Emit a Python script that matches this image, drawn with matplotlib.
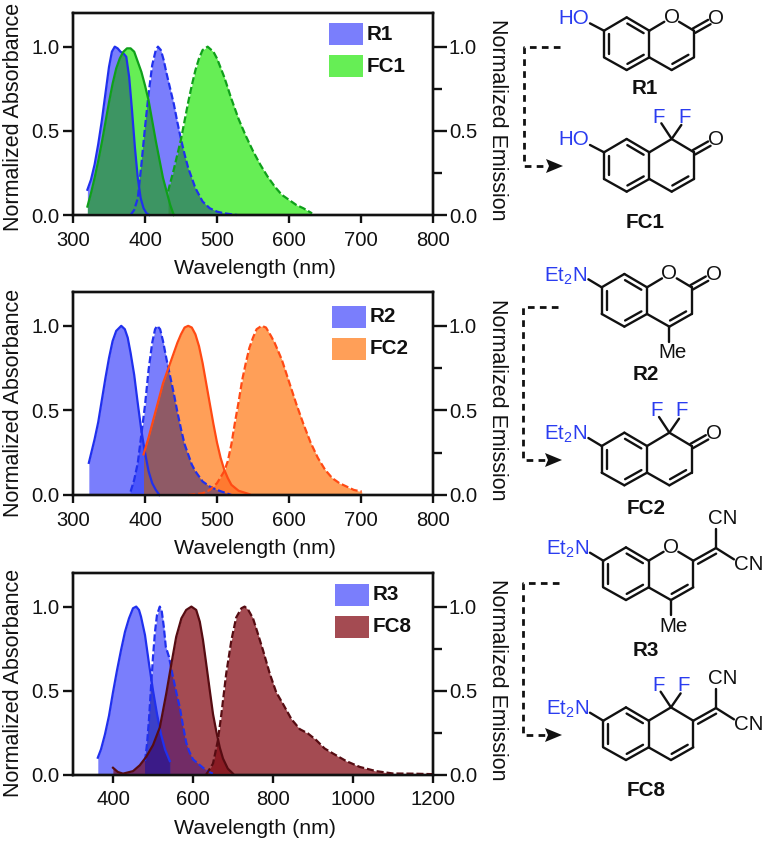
import numpy as np
import matplotlib
matplotlib.use('Agg')
import matplotlib.pyplot as plt
from matplotlib.patches import Rectangle, Polygon

plt.rcParams['font.family'] = ['Liberation Sans', 'DejaVu Sans']
plt.rcParams['mathtext.fontset'] = 'custom'
plt.rcParams['mathtext.rm'] = 'Liberation Sans'
plt.rcParams['mathtext.default'] = 'regular'

# === DATA ===
r1_abs_x = [320, 325, 330, 335, 340, 345, 350, 354, 358, 362, 366, 370, 374, 378, 382, 386, 390, 394, 398, 402, 406]
r1_abs_y = [.15, .21, .30, .42, .56, .72, .88, .97, 1.0, .99, .97, .96, .94, .82, .62, .40, .22, .10, .04, .01, 0]
r1_em_x = [380, 385, 390, 395, 400, 405, 410, 415, 418, 422, 426, 430, 435, 440, 445, 450, 455, 460, 465, 470, 475, 480, 490, 500, 510, 528]
r1_em_y = [0, .03, .10, .30, .52, .72, .89, .98, 1.0, .98, .92, .84, .75, .66, .55, .45, .36, .28, .22, .16, .12, .08, .04, .02, .01, 0]
fc1_abs_x = [320, 325, 330, 335, 340, 345, 350, 355, 360, 365, 370, 375, 380, 385, 390, 395, 400, 405, 410, 415, 420, 425, 430, 435, 440]
fc1_abs_y = [.05, .13, .22, .32, .43, .55, .67, .78, .87, .93, .97, .99, .99, .97, .91, .85, .77, .68, .56, .44, .33, .22, .14, .06, 0]
fc1_em_x = [432, 440, 450, 460, 465, 470, 475, 480, 487, 495, 500, 510, 520, 530, 540, 550, 560, 570, 580, 590, 600, 610, 620, 632]
fc1_em_y = [.14, .27, .45, .67, .77, .86, .93, .98, 1.0, .97, .93, .82, .69, .57, .47, .38, .30, .23, .17, .12, .09, .06, .04, .01]

r2_abs_x = [322, 330, 335, 340, 345, 350, 355, 360, 367, 372, 376, 380, 385, 390, 395, 400, 405, 410, 415, 420]
r2_abs_y = [.19, .33, .43, .56, .69, .81, .91, .97, 1.0, .98, .93, .84, .71, .54, .38, .25, .14, .07, .03, 0]
r2_em_x = [380, 385, 390, 395, 400, 405, 410, 414, 417, 421, 425, 430, 435, 440, 445, 450, 455, 460, 465, 470, 480, 490, 500, 510, 520]
r2_em_y = [.02, .09, .19, .36, .53, .74, .90, .98, 1.0, .98, .91, .80, .70, .60, .49, .39, .30, .24, .18, .14, .08, .05, .03, .015, 0]
fc2_abs_x = [398, 405, 410, 415, 420, 425, 430, 435, 440, 445, 450, 455, 460, 465, 470, 475, 480, 485, 490, 495, 500, 505, 510, 515, 520, 530, 545]
fc2_abs_y = [.24, .34, .42, .50, .58, .66, .72, .78, .84, .90, .95, .99, 1.0, .99, .95, .88, .78, .66, .54, .42, .31, .22, .15, .10, .06, .025, .005]
fc2_em_x = [460, 470, 480, 490, 500, 510, 515, 520, 525, 530, 535, 540, 545, 550, 555, 562, 568, 575, 580, 590, 600, 610, 620, 630, 640, 650, 660, 670, 680, 690, 701]
fc2_em_y = [0, .005, .01, .03, .07, .14, .20, .30, .43, .55, .68, .78, .87, .93, .98, 1.0, .99, .94, .90, .80, .67, .54, .42, .31, .22, .15, .10, .07, .05, .03, .02]

r3_abs_x = [362, 370, 380, 390, 400, 410, 420, 430, 440, 450, 458, 465, 470, 480, 490, 500, 510, 520, 530, 542]
r3_abs_y = [.10, .15, .24, .35, .49, .62, .74, .85, .93, .99, 1.0, .98, .94, .83, .66, .50, .36, .24, .15, .08]
r3_em_x = [480, 485, 490, 495, 500, 505, 510, 517, 522, 527, 532, 540, 550, 560, 567, 575, 583, 590, 600, 610, 625, 640, 655]
r3_em_y = [.08, .18, .33, .52, .70, .85, .95, 1.0, .97, .88, .76, .70, .58, .47, .40, .29, .19, .14, .09, .07, .04, .015, 0]
fc8_abs_x = [400, 412, 425, 450, 467, 483, 500, 517, 533, 546, 558, 571, 583, 596, 608, 617, 625, 633, 642, 650, 658, 667, 675, 687, 700]
fc8_abs_y = [.04, .015, .005, .02, .055, .105, .175, .28, .48, .66, .82, .93, .98, 1.0, .98, .91, .80, .66, .50, .36, .26, .16, .095, .035, .005]
fc8_em_x = [633, 650, 662, 671, 683, 696, 708, 721, 729, 737, 750, 762, 775, 792, 808, 825, 846, 867, 887, 908, 929, 950, 983, 1017, 1058, 1100, 1150, 1200]
fc8_em_y = [0, .065, .20, .36, .60, .80, .935, .99, 1.0, .985, .93, .84, .74, .60, .49, .42, .33, .27, .245, .205, .155, .125, .08, .045, .02, .006, .005, .002]

yticks = [0.0, 0.5, 1.0]
xticks_12 = [300, 400, 500, 600, 700, 800]
xticks_3 = [400, 600, 800, 1000, 1200]

BLUE = '#2030ee'
BLUE_FILL = '#7a7efc'
BLACK = '#111111'
TXT_BLUE = '#2a3cf0'
W, H = 764, 842

fig = plt.figure(figsize=(W / 100, H / 100), dpi=100)
over = fig.add_axes([0, 0, 1, 1], zorder=10)
over.set_xlim(0, W)
over.set_ylim(H, 0)
over.axis('off')
over.patch.set_alpha(0)


def panel(top, bottom, xlim, xticks, curves, overlaps, ylabel_y, emis_y, xlabel_y):
    ax = fig.add_axes([73 / W, 1 - bottom / H, 360 / W, (bottom - top) / H])
    ax.set_xlim(*xlim)
    ax.set_ylim(0, 1.2)
    polys = []
    for x, y, fill, line, ls in curves:
        polys.append(ax.fill_between(x, 0, y, color=fill, lw=0, zorder=2))
    for i, j, col, alpha in overlaps:
        ov = ax.fill_between(curves[i][0], 0, curves[i][1], color=col, alpha=alpha, lw=0, zorder=3)
        ov.set_clip_path(polys[j].get_paths()[0], ax.transData)
    for x, y, fill, line, ls in curves:
        if ls == 'solid':
            ax.plot(x, y, color=line, lw=1.6, zorder=4, clip_on=False)
        else:
            ax.plot(x, y, color=line, lw=1.6, ls=(0, (3.2, 1.3)), zorder=4, clip_on=False)

    ax.set_xticks(xticks)
    ax.set_yticks(yticks)
    ax.tick_params(axis='y', length=7.5, width=1.7, pad=2, labelsize=14.6, color=BLACK, labelcolor=BLACK)
    ax.tick_params(axis='x', length=5.5, width=1.7, pad=6, labelsize=14.6, color=BLACK, labelcolor=BLACK)
    ax.set_xlabel('Wavelength (nm)', fontsize=15.4, color=BLACK, va='center')
    ax.xaxis.set_label_coords(255, xlabel_y + 1, transform=over.transData)
    ax.set_ylabel('Normalized Absorbance', fontsize=15.5, color=BLACK, va='center')
    ax.yaxis.set_label_coords(14, ylabel_y, transform=over.transData)

    ax2 = ax.twinx()
    ax2.set_ylim(0, 1.2)
    ax2.set_yticks(yticks)
    ax2.set_yticks([0.25, 0.75], minor=True)
    ax2.tick_params(axis='y', which='major', length=10, width=1.7, pad=1.5, labelsize=14.6, color=BLACK, labelcolor=BLACK)
    ax2.tick_params(axis='y', which='minor', length=6.5, width=1.7, color=BLACK)
    ax2.set_ylabel('Normalized Emission', fontsize=15.5, rotation=270, color=BLACK, va='center')
    ax2.yaxis.set_label_coords(497, emis_y, transform=over.transData)
    for a in (ax, ax2):
        for s in a.spines.values():
            s.set_linewidth(1.7)
            s.set_color(BLACK)
    return ax


GREEN_FILL, GREEN = '#66ee55', '#0fa01a'
ORANGE_FILL, ORANGE = '#ff9f58', '#ff4a14'
RED_FILL, RED = '#a44b52', '#560c12'

panel(13, 215, (300, 800), xticks_12,
      [(r1_abs_x, r1_abs_y, BLUE_FILL, BLUE, 'solid'),
       (r1_em_x, r1_em_y, BLUE_FILL, BLUE, 'dash'),
       (fc1_abs_x, fc1_abs_y, GREEN_FILL, GREEN, 'solid'),
       (fc1_em_x, fc1_em_y, GREEN_FILL, GREEN, 'dash')],
      [(0, 1, '#4a55f5', 1), (2, 0, '#3d9563', 1), (2, 1, '#3d9563', 1), (3, 1, '#3d9563', 1), (3, 2, '#2f8f45', 1)],
      117, 120, 267)

panel(292, 495, (300, 800), xticks_12,
      [(r2_abs_x, r2_abs_y, BLUE_FILL, BLUE, 'solid'),
       (r2_em_x, r2_em_y, BLUE_FILL, BLUE, 'dash'),
       (fc2_abs_x, fc2_abs_y, ORANGE_FILL, ORANGE, 'solid'),
       (fc2_em_x, fc2_em_y, ORANGE_FILL, ORANGE, 'dash')],
      [(0, 1, '#4a55fa', 1), (2, 0, '#8f5a66', 1), (2, 1, '#8f5a66', 1), (3, 2, '#ff7a30', 1), (3, 1, '#8f5a66', 1)],
      403, 400, 547)

panel(573, 774.5, (300, 1200), xticks_3,
      [(r3_abs_x, r3_abs_y, BLUE_FILL, BLUE, 'solid'),
       (r3_em_x, r3_em_y, BLUE_FILL, BLUE, 'dash'),
       (fc8_abs_x, fc8_abs_y, RED_FILL, RED, 'solid'),
       (fc8_em_x, fc8_em_y, RED_FILL, RED, 'dash')],
      [(0, 1, '#3a44e0', 0.7), (2, 0, '#4a1478', 0.55), (2, 1, '#4a1478', 0.55), (0, 1, '#1c1a90', 0.35), (3, 2, '#8a1c24', 1)],
      683, 680, 827)

# legends
leg_names = [('R1', 'FC1'), ('R2', 'FC2'), ('R3', 'FC8')]
leg_cols = [GREEN_FILL, ORANGE_FILL, RED_FILL]
leg_x = [329, 332, 335]
leg_y = [23, 306, 584]
for names, col, lx, ly in zip(leg_names, leg_cols, leg_x, leg_y):
    over.add_patch(Rectangle((lx, ly), 34, 22, fc=BLUE_FILL, ec='none'))
    over.add_patch(Rectangle((lx, ly + 32), 34, 22, fc=col, ec='none'))
    over.text(lx + 38, ly + 11, names[0], fontsize=14.9, weight='bold', va='center', color=BLACK)
    over.text(lx + 38, ly + 43, names[1], fontsize=14.9, weight='bold', va='center', color=BLACK)


# === STRUCTURES ===
def bond(p, q, trim_p=0.0, trim_q=0.0):
    p, q = np.array(p, float), np.array(q, float)
    d = q - p
    s, e = p + d * trim_p, q - d * trim_q
    over.plot([s[0], e[0]], [s[1], e[1]], color=BLACK, lw=1.7, solid_capstyle='round', clip_on=False)


def inner(p, q, centre, off=5.0, trim=0.14):
    p, q, c = np.array(p, float), np.array(q, float), np.array(centre, float)
    mid = (p + q) / 2
    d = (q - p) / np.linalg.norm(q - p)
    n = np.array([-d[1], d[0]])
    if np.dot(n, c - mid) < 0:
        n = -n
    bond(p + n * off, q + n * off, trim, trim)


def mol_text(x, y, s, col=TXT_BLUE, size=14.8, **kw):
    over.text(x, y, s, color=col, fontsize=size, ha='center', va='center', **kw)


def core(ax_, ay_, oxygen):
    t = lambda dx, dy: (ax_ + dx / 3, ay_ + dy / 3)
    a, b, c, d, e, f = t(0, 0), t(68, -40), t(136, 0), t(136, 80), t(68, 118), t(0, 80)
    p, g, h, i = t(203, -40), t(270, 0), t(270, 80), t(203, 118)
    ca, cb = t(68, 40), t(203, 40)
    for u, v in [(a, b), (b, c), (c, d), (d, e), (e, f), (f, a), (g, h), (h, i), (i, d)]:
        bond(u, v)
    if oxygen:
        bond(c, p, 0, 0.33)
        bond(p, g, 0.33, 0)
        mol_text(p[0], p[1], 'O', BLACK)
    else:
        bond(c, p)
        bond(p, g)
        bond(p, t(172, -87))
        bond(p, t(232, -82))
        mol_text(*t(165, -105), 'F')
        mol_text(*t(241, -105), 'F')
    inner(b, c, ca)
    inner(a, f, ca)
    inner(d, e, ca)
    inner(h, i, cb)
    return dict(a=a, g=g, i=i, t=t)


def carbonyl(m):
    g, t = m['g'], m['t']
    o = t(316, -26)
    inner(g, o, t(270, -60), off=2.5, trim=0)
    inner(g, o, t(400, 40), off=2.5, trim=0)
    mol_text(*t(337, -37), 'O', BLACK)


def methyl(m):
    i, t = m['i'], m['t']
    bond(i, t(203, 163))
    mol_text(*t(211, 197), 'Me', BLACK)


def amine(m):
    t = m['t']
    bond(t(-40, -24), m['a'])
    mol_text(*t(-107, -34), 'Et$_2$N')


def dicyano(m):
    g, t = m['g'], m['t']
    j = t(338, -38)
    inner(g, j, t(338, 40), off=0, trim=0)
    inner(g, j, t(338, 40), off=5, trim=0.1)
    bond(j, t(338, -96))
    bond(j, t(392, -4))
    mol_text(*t(358, -126), 'CN', BLACK)
    mol_text(*t(436, 10), 'CN', BLACK)


m = core(604, 30.7, True)
bond(m['t'](-42, -22), m['a'])
mol_text(*m['t'](-90, -37), 'HO')
carbonyl(m)
m = core(604, 152.3, False)
bond(m['t'](-42, -22), m['a'])
mol_text(*m['t'](-90, -37), 'HO')
carbonyl(m)
m = core(601.7, 287.3, True)
amine(m)
carbonyl(m)
methyl(m)
m = core(601.7, 446, False)
amine(m)
carbonyl(m)
m = core(603.3, 560.7, True)
amine(m)
dicyano(m)
methyl(m)
m = core(603.3, 720.7, False)
amine(m)
dicyano(m)

mol_labels = ['R1', 'FC1', 'R2', 'FC2', 'R3', 'FC8']
mol_label_x = [645, 645, 646, 646, 646, 646]
mol_label_y = [89, 223, 375, 508, 651, 791]
for s, lx, ly in zip(mol_labels, mol_label_x, mol_label_y):
    mol_text(lx, ly, s, BLACK, 14.9, weight='bold')

# dashed arrows
arrow_x0 = [560, 558, 559]
arrow_xm = [524, 523, 523]
arrow_y0 = [47, 307, 583]
arrow_y1 = [166, 460, 735]
for x0, xm, y0, y1 in zip(arrow_x0, arrow_xm, arrow_y0, arrow_y1):
    over.plot([x0, xm, xm, xm + 24], [y0, y0, y1, y1], color=BLACK, lw=2.0, ls=(0, (2.4, 1.9)), clip_on=False)
    over.add_patch(Polygon([(xm + 22, y1 - 7), (xm + 39, y1), (xm + 22, y1 + 7), (xm + 25, y1)], fc=BLACK, ec='none'))

fig.savefig('out.png', dpi=100)
